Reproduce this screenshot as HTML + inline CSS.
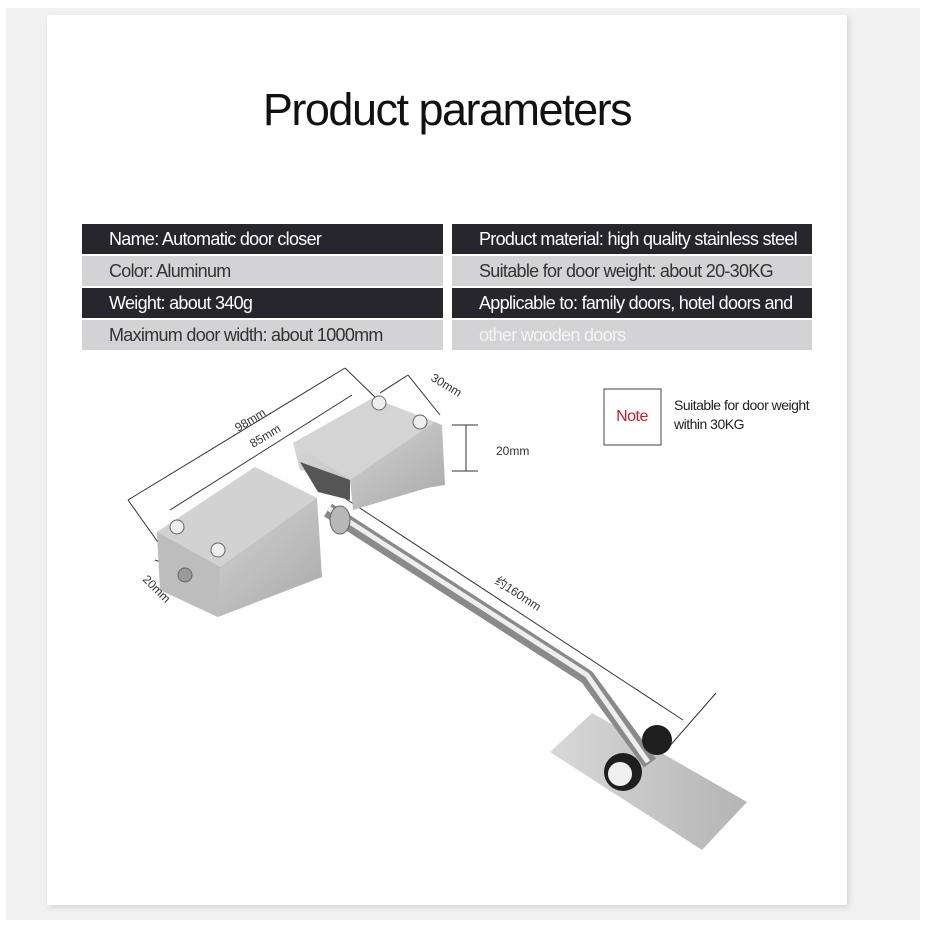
<!DOCTYPE html>
<html><head><meta charset="utf-8"><style>
html,body{margin:0;padding:0;background:#fff;width:943px;height:943px;overflow:hidden;font-family:"Liberation Sans",sans-serif}
.bg{position:absolute;left:6px;top:8px;width:914px;height:912px;background:#f1f1f1}
.card{position:absolute;left:47px;top:15px;width:800px;height:890px;background:#fff;box-shadow:2px 2px 6px rgba(0,0,0,.12)}
.title{position:absolute;left:0;width:894px;top:84px;text-align:center;font-size:45px;color:#111;letter-spacing:-1.5px}
.row{position:absolute;height:30px;line-height:30px;font-size:18px;letter-spacing:-0.7px;white-space:nowrap;overflow:hidden;padding-left:27px;box-sizing:border-box}
.d{background:#26262c;color:#fff}.l{background:#d3d3d5;color:#333}
</style></head><body>
<div class="bg"></div><div class="card"></div>
<div class="title">Product parameters</div>
<div class="row d" style="left:82px;top:224px;width:361px">Name: Automatic door closer</div>
<div class="row l" style="left:82px;top:256px;width:361px">Color: Aluminum</div>
<div class="row d" style="left:82px;top:288px;width:361px">Weight: about 340g</div>
<div class="row l" style="left:82px;top:320px;width:361px">Maximum door width: about 1000mm</div>
<div class="row d" style="left:452px;top:224px;width:360px">Product material: high quality stainless steel</div>
<div class="row l" style="left:452px;top:256px;width:360px">Suitable for door weight: about 20-30KG</div>
<div class="row d" style="left:452px;top:288px;width:360px">Applicable to: family doors, hotel doors and</div>
<div class="row l" style="left:452px;top:320px;width:360px;color:#f4f4f4">other wooden doors</div>
<svg width="943" height="943" style="position:absolute;left:0;top:0">
<defs>
<linearGradient id="m" x1="0" y1="0" x2="1" y2="1"><stop offset="0" stop-color="#e4e4e4"/><stop offset="1" stop-color="#a9a9a9"/></linearGradient>
<linearGradient id="p" x1="0" y1="0" x2="1" y2="0"><stop offset="0" stop-color="#d8d8d8"/><stop offset="1" stop-color="#b4b4b4"/></linearGradient>
</defs>
<g stroke="#333" stroke-width="1" fill="none">
<line x1="128" y1="500" x2="345" y2="368"/><line x1="128" y1="500" x2="160" y2="545"/><line x1="345" y1="368" x2="378" y2="400"/>
<line x1="170" y1="510" x2="352" y2="395"/>
<line x1="380" y1="393" x2="408" y2="375"/><line x1="408" y1="375" x2="440" y2="415"/>
<line x1="466" y1="425" x2="466" y2="471"/><line x1="452" y1="425" x2="478" y2="425"/><line x1="452" y1="471" x2="478" y2="471"/>
<line x1="340" y1="495" x2="683" y2="720"/><line x1="716" y1="693" x2="668" y2="748"/>
<line x1="155" y1="560" x2="200" y2="575"/>
</g>
<polygon points="550,752 592,713 747,802 702,850" fill="url(#p)"/>
<polygon points="293,443 373,398 435,422 442,425 445,485 427,488 353,510 350,480 300,470" fill="url(#m)"/>
<polygon points="293,443 373,398 435,422 350,480" fill="#d4d4d4"/>
<polygon points="300,462 350,480 350,500 318,492" fill="#555"/>
<polygon points="157,532 255,467 317,498 322,577 218,617 160,590" fill="url(#m)"/>
<polygon points="157,532 255,467 317,498 220,567" fill="#d2d2d2"/>
<polygon points="157,532 220,567 218,617 160,590" fill="#bdbdbd"/>
<path d="M328,510 L587,677 L650,763" stroke="#8a8a8a" stroke-width="15" fill="none" stroke-linejoin="round"/>
<path d="M328,508 L587,675 L648,762" stroke="#eee" stroke-width="5" fill="none" stroke-linejoin="round"/>
<ellipse cx="340" cy="520" rx="10" ry="14" fill="#b8b8b8" stroke="#666"/>
<circle cx="657" cy="740" r="15" fill="#1e1e1e"/>
<circle cx="623" cy="772" r="19" fill="#1e1e1e"/><circle cx="620" cy="774" r="12" fill="#f0f0f0"/>
<g fill="#eee" stroke="#666"><circle cx="379" cy="403" r="7"/><circle cx="420" cy="422" r="7"/><circle cx="177" cy="527" r="7"/><circle cx="218" cy="550" r="7"/><circle cx="185" cy="575" r="7" fill="#999"/></g>
<g font-family="Liberation Sans,sans-serif" font-size="12" fill="#333">
<text transform="translate(238,432) rotate(-31)">98mm</text>
<text transform="translate(253,448) rotate(-31)">85mm</text>
<text transform="translate(430,380) rotate(31)">30mm</text>
<text x="496" y="455">20mm</text>
<text transform="translate(142,580) rotate(45)">20mm</text>
<text transform="translate(494,583) rotate(33)" font-family="Liberation Sans,Noto Sans CJK SC,sans-serif">约160mm</text>
</g>
<rect x="604" y="389" width="57" height="56" fill="#fff" stroke="#444" stroke-width="1"/>
<text x="632" y="421" text-anchor="middle" font-family="Liberation Sans,sans-serif" font-size="16" fill="#c8202a" letter-spacing="-0.5">Note</text>
<text x="674" y="410" font-family="Liberation Sans,sans-serif" font-size="14" fill="#222" letter-spacing="-0.5">Suitable for door weight</text>
<text x="674" y="429" font-family="Liberation Sans,sans-serif" font-size="14" fill="#222" letter-spacing="-0.5">within 30KG</text>
</svg>
</body></html>
